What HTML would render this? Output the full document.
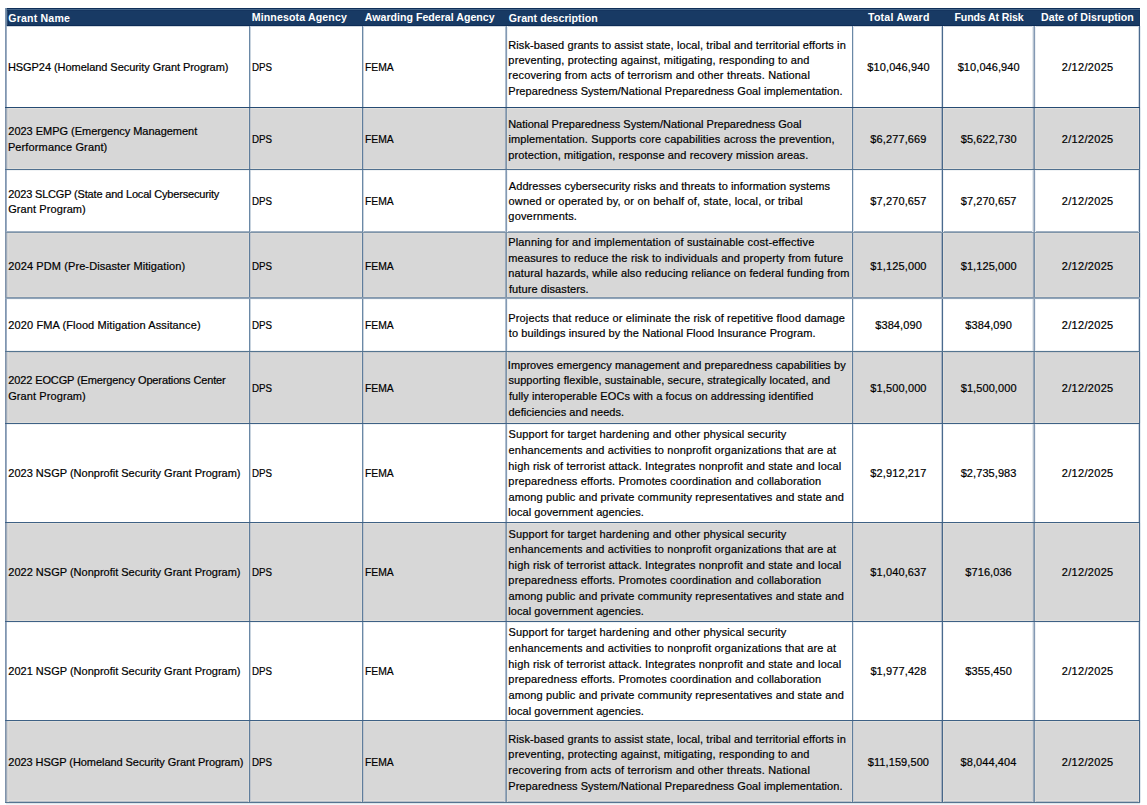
<!DOCTYPE html>
<html><head><meta charset="utf-8"><style>
html,body{margin:0;padding:0;background:#fff;width:1147px;height:805px;overflow:hidden;}
body{position:relative;font-family:"Liberation Sans",sans-serif;color:#000;}
.f{position:absolute;}
.t{position:absolute;font-size:11px;line-height:11px;white-space:nowrap;transform-origin:0 0;-webkit-text-stroke:0.2px currentColor;}
.b{font-weight:bold;font-size:10.6px;-webkit-text-stroke:0;}
.w{color:#fff;}
.hid{visibility:hidden;}
</style></head><body>

<div class="f" style="left:5px;top:8px;width:1135px;height:18px;background:#183a64"></div>
<div class="f" style="left:6px;top:108px;width:1133px;height:61px;background:#d7d7d7"></div>
<div class="f" style="left:6px;top:233px;width:1133px;height:65px;background:#d7d7d7"></div>
<div class="f" style="left:6px;top:352px;width:1133px;height:71px;background:#d7d7d7"></div>
<div class="f" style="left:6px;top:523px;width:1133px;height:98px;background:#d7d7d7"></div>
<div class="f" style="left:6px;top:721px;width:1133px;height:81px;background:#d7d7d7"></div>
<div class="f" style="left:5px;top:26px;width:1135px;height:1px;background:#d0d8e0"></div>
<div class="f" style="left:5px;top:108px;width:1135px;height:1px;background:#e3e1de"></div>
<div class="f" style="left:5px;top:168px;width:1135px;height:1px;background:#e0dfdc"></div>
<div class="f" style="left:5px;top:170px;width:1135px;height:1px;background:#f0f3f5"></div>
<div class="f" style="left:5px;top:231px;width:1135px;height:1px;background:#9fb0c2"></div>
<div class="f" style="left:5px;top:233px;width:1135px;height:1px;background:#dcdbd9"></div>
<div class="f" style="left:5px;top:296px;width:1135px;height:1px;background:#dcdbd9"></div>
<div class="f" style="left:5px;top:299px;width:1135px;height:1px;background:#f5f7f9"></div>
<div class="f" style="left:5px;top:350px;width:1135px;height:1px;background:#f0f3f5"></div>
<div class="f" style="left:5px;top:352px;width:1135px;height:1px;background:#c8cacd"></div>
<div class="f" style="left:5px;top:422px;width:1135px;height:1px;background:#e0dfdc"></div>
<div class="f" style="left:5px;top:424px;width:1135px;height:1px;background:#f0f3f5"></div>
<div class="f" style="left:5px;top:523px;width:1135px;height:1px;background:#e0dfdc"></div>
<div class="f" style="left:5px;top:620px;width:1135px;height:1px;background:#e0dfdc"></div>
<div class="f" style="left:5px;top:622px;width:1135px;height:1px;background:#f0f3f5"></div>
<div class="f" style="left:5px;top:721px;width:1135px;height:1px;background:#e0dfdc"></div>
<div class="f" style="left:5px;top:800px;width:1135px;height:1px;background:#dfdedc"></div>
<div class="f" style="left:5px;top:801px;width:1135px;height:1px;background:#b6bec8"></div>
<div class="f" style="left:6px;top:803px;width:1134px;height:1px;background:#dde4ea"></div>
<div class="f" style="left:6px;top:804px;width:1134px;height:1px;background:#f5f7f9"></div>
<div class="f" style="left:5px;top:26px;width:1px;height:777px;background:#7f95b0"></div>
<div class="f" style="left:6px;top:26px;width:1px;height:777px;background:#9dadc2"></div>
<div class="f" style="left:249px;top:26px;width:1px;height:777px;background:#6a88a6"></div>
<div class="f" style="left:250px;top:26px;width:1px;height:777px;background:#c8d3de"></div>
<div class="f" style="left:362px;top:26px;width:1px;height:777px;background:#6a88a6"></div>
<div class="f" style="left:363px;top:26px;width:1px;height:777px;background:#c8d3de"></div>
<div class="f" style="left:505px;top:26px;width:1px;height:777px;background:#b0bfcf"></div>
<div class="f" style="left:506px;top:26px;width:1px;height:777px;background:#8399b3"></div>
<div class="f" style="left:507px;top:26px;width:1px;height:777px;background:#eef2f5"></div>
<div class="f" style="left:852px;top:26px;width:1px;height:777px;background:#6a88a6"></div>
<div class="f" style="left:853px;top:26px;width:1px;height:777px;background:#dde4ec"></div>
<div class="f" style="left:941px;top:26px;width:1px;height:777px;background:#c9d3de"></div>
<div class="f" style="left:942px;top:26px;width:1px;height:777px;background:#4a6a8e"></div>
<div class="f" style="left:943px;top:26px;width:1px;height:777px;background:#f0f3f6"></div>
<div class="f" style="left:1032px;top:26px;width:1px;height:777px;background:#e5eaef"></div>
<div class="f" style="left:1033px;top:26px;width:1px;height:777px;background:#b5c2d0"></div>
<div class="f" style="left:1034px;top:26px;width:1px;height:777px;background:#8499b3"></div>
<div class="f" style="left:1035px;top:26px;width:1px;height:777px;background:#eef1f4"></div>
<div class="f" style="left:1138px;top:26px;width:1px;height:777px;background:#d0d9e3"></div>
<div class="f" style="left:1139px;top:26px;width:1px;height:777px;background:#4a6a8e"></div>
<div class="f" style="left:1140px;top:26px;width:1px;height:777px;background:#e8edf2"></div>
<div class="f" style="left:5px;top:108px;width:1px;height:61px;background:#8093ab"></div>
<div class="f" style="left:6px;top:108px;width:1px;height:61px;background:#9eabba"></div>
<div class="f" style="left:7px;top:108px;width:1px;height:61px;background:#d0d1d3"></div>
<div class="f" style="left:8px;top:108px;width:1px;height:61px;background:#dcdcdb"></div>
<div class="f" style="left:248px;top:108px;width:1px;height:61px;background:#dddcda"></div>
<div class="f" style="left:249px;top:108px;width:1px;height:61px;background:#5f7d9c"></div>
<div class="f" style="left:250px;top:108px;width:1px;height:61px;background:#bfc5cd"></div>
<div class="f" style="left:361px;top:108px;width:1px;height:61px;background:#dddcda"></div>
<div class="f" style="left:362px;top:108px;width:1px;height:61px;background:#5f7d9c"></div>
<div class="f" style="left:363px;top:108px;width:1px;height:61px;background:#bfc5cd"></div>
<div class="f" style="left:504px;top:108px;width:1px;height:61px;background:#d5d6d8"></div>
<div class="f" style="left:505px;top:108px;width:1px;height:61px;background:#9aa8b8"></div>
<div class="f" style="left:506px;top:108px;width:1px;height:61px;background:#7b93aa"></div>
<div class="f" style="left:507px;top:108px;width:1px;height:61px;background:#dddcd9"></div>
<div class="f" style="left:851px;top:108px;width:1px;height:61px;background:#dddcda"></div>
<div class="f" style="left:852px;top:108px;width:1px;height:61px;background:#5f7d9c"></div>
<div class="f" style="left:853px;top:108px;width:1px;height:61px;background:#c9ced4"></div>
<div class="f" style="left:940px;top:108px;width:1px;height:61px;background:#d5d6d8"></div>
<div class="f" style="left:941px;top:108px;width:1px;height:61px;background:#a3afbf"></div>
<div class="f" style="left:942px;top:108px;width:1px;height:61px;background:#486789"></div>
<div class="f" style="left:943px;top:108px;width:1px;height:61px;background:#dddcda"></div>
<div class="f" style="left:1032px;top:108px;width:1px;height:61px;background:#d0d2d6"></div>
<div class="f" style="left:1033px;top:108px;width:1px;height:61px;background:#97a6b7"></div>
<div class="f" style="left:1034px;top:108px;width:1px;height:61px;background:#7990a8"></div>
<div class="f" style="left:1035px;top:108px;width:1px;height:61px;background:#dddcda"></div>
<div class="f" style="left:1138px;top:108px;width:1px;height:61px;background:#dfdcda"></div>
<div class="f" style="left:1139px;top:108px;width:1px;height:61px;background:#48698c"></div>
<div class="f" style="left:1140px;top:108px;width:1px;height:61px;background:#e0e8ee"></div>
<div class="f" style="left:5px;top:233px;width:1px;height:65px;background:#8093ab"></div>
<div class="f" style="left:6px;top:233px;width:1px;height:65px;background:#9eabba"></div>
<div class="f" style="left:7px;top:233px;width:1px;height:65px;background:#d0d1d3"></div>
<div class="f" style="left:8px;top:233px;width:1px;height:65px;background:#dcdcdb"></div>
<div class="f" style="left:248px;top:233px;width:1px;height:65px;background:#dddcda"></div>
<div class="f" style="left:249px;top:233px;width:1px;height:65px;background:#5f7d9c"></div>
<div class="f" style="left:250px;top:233px;width:1px;height:65px;background:#bfc5cd"></div>
<div class="f" style="left:361px;top:233px;width:1px;height:65px;background:#dddcda"></div>
<div class="f" style="left:362px;top:233px;width:1px;height:65px;background:#5f7d9c"></div>
<div class="f" style="left:363px;top:233px;width:1px;height:65px;background:#bfc5cd"></div>
<div class="f" style="left:504px;top:233px;width:1px;height:65px;background:#d5d6d8"></div>
<div class="f" style="left:505px;top:233px;width:1px;height:65px;background:#9aa8b8"></div>
<div class="f" style="left:506px;top:233px;width:1px;height:65px;background:#7b93aa"></div>
<div class="f" style="left:507px;top:233px;width:1px;height:65px;background:#dddcd9"></div>
<div class="f" style="left:851px;top:233px;width:1px;height:65px;background:#dddcda"></div>
<div class="f" style="left:852px;top:233px;width:1px;height:65px;background:#5f7d9c"></div>
<div class="f" style="left:853px;top:233px;width:1px;height:65px;background:#c9ced4"></div>
<div class="f" style="left:940px;top:233px;width:1px;height:65px;background:#d5d6d8"></div>
<div class="f" style="left:941px;top:233px;width:1px;height:65px;background:#a3afbf"></div>
<div class="f" style="left:942px;top:233px;width:1px;height:65px;background:#486789"></div>
<div class="f" style="left:943px;top:233px;width:1px;height:65px;background:#dddcda"></div>
<div class="f" style="left:1032px;top:233px;width:1px;height:65px;background:#d0d2d6"></div>
<div class="f" style="left:1033px;top:233px;width:1px;height:65px;background:#97a6b7"></div>
<div class="f" style="left:1034px;top:233px;width:1px;height:65px;background:#7990a8"></div>
<div class="f" style="left:1035px;top:233px;width:1px;height:65px;background:#dddcda"></div>
<div class="f" style="left:1138px;top:233px;width:1px;height:65px;background:#dfdcda"></div>
<div class="f" style="left:1139px;top:233px;width:1px;height:65px;background:#48698c"></div>
<div class="f" style="left:1140px;top:233px;width:1px;height:65px;background:#e0e8ee"></div>
<div class="f" style="left:5px;top:352px;width:1px;height:71px;background:#8093ab"></div>
<div class="f" style="left:6px;top:352px;width:1px;height:71px;background:#9eabba"></div>
<div class="f" style="left:7px;top:352px;width:1px;height:71px;background:#d0d1d3"></div>
<div class="f" style="left:8px;top:352px;width:1px;height:71px;background:#dcdcdb"></div>
<div class="f" style="left:248px;top:352px;width:1px;height:71px;background:#dddcda"></div>
<div class="f" style="left:249px;top:352px;width:1px;height:71px;background:#5f7d9c"></div>
<div class="f" style="left:250px;top:352px;width:1px;height:71px;background:#bfc5cd"></div>
<div class="f" style="left:361px;top:352px;width:1px;height:71px;background:#dddcda"></div>
<div class="f" style="left:362px;top:352px;width:1px;height:71px;background:#5f7d9c"></div>
<div class="f" style="left:363px;top:352px;width:1px;height:71px;background:#bfc5cd"></div>
<div class="f" style="left:504px;top:352px;width:1px;height:71px;background:#d5d6d8"></div>
<div class="f" style="left:505px;top:352px;width:1px;height:71px;background:#9aa8b8"></div>
<div class="f" style="left:506px;top:352px;width:1px;height:71px;background:#7b93aa"></div>
<div class="f" style="left:507px;top:352px;width:1px;height:71px;background:#dddcd9"></div>
<div class="f" style="left:851px;top:352px;width:1px;height:71px;background:#dddcda"></div>
<div class="f" style="left:852px;top:352px;width:1px;height:71px;background:#5f7d9c"></div>
<div class="f" style="left:853px;top:352px;width:1px;height:71px;background:#c9ced4"></div>
<div class="f" style="left:940px;top:352px;width:1px;height:71px;background:#d5d6d8"></div>
<div class="f" style="left:941px;top:352px;width:1px;height:71px;background:#a3afbf"></div>
<div class="f" style="left:942px;top:352px;width:1px;height:71px;background:#486789"></div>
<div class="f" style="left:943px;top:352px;width:1px;height:71px;background:#dddcda"></div>
<div class="f" style="left:1032px;top:352px;width:1px;height:71px;background:#d0d2d6"></div>
<div class="f" style="left:1033px;top:352px;width:1px;height:71px;background:#97a6b7"></div>
<div class="f" style="left:1034px;top:352px;width:1px;height:71px;background:#7990a8"></div>
<div class="f" style="left:1035px;top:352px;width:1px;height:71px;background:#dddcda"></div>
<div class="f" style="left:1138px;top:352px;width:1px;height:71px;background:#dfdcda"></div>
<div class="f" style="left:1139px;top:352px;width:1px;height:71px;background:#48698c"></div>
<div class="f" style="left:1140px;top:352px;width:1px;height:71px;background:#e0e8ee"></div>
<div class="f" style="left:5px;top:523px;width:1px;height:98px;background:#8093ab"></div>
<div class="f" style="left:6px;top:523px;width:1px;height:98px;background:#9eabba"></div>
<div class="f" style="left:7px;top:523px;width:1px;height:98px;background:#d0d1d3"></div>
<div class="f" style="left:8px;top:523px;width:1px;height:98px;background:#dcdcdb"></div>
<div class="f" style="left:248px;top:523px;width:1px;height:98px;background:#dddcda"></div>
<div class="f" style="left:249px;top:523px;width:1px;height:98px;background:#5f7d9c"></div>
<div class="f" style="left:250px;top:523px;width:1px;height:98px;background:#bfc5cd"></div>
<div class="f" style="left:361px;top:523px;width:1px;height:98px;background:#dddcda"></div>
<div class="f" style="left:362px;top:523px;width:1px;height:98px;background:#5f7d9c"></div>
<div class="f" style="left:363px;top:523px;width:1px;height:98px;background:#bfc5cd"></div>
<div class="f" style="left:504px;top:523px;width:1px;height:98px;background:#d5d6d8"></div>
<div class="f" style="left:505px;top:523px;width:1px;height:98px;background:#9aa8b8"></div>
<div class="f" style="left:506px;top:523px;width:1px;height:98px;background:#7b93aa"></div>
<div class="f" style="left:507px;top:523px;width:1px;height:98px;background:#dddcd9"></div>
<div class="f" style="left:851px;top:523px;width:1px;height:98px;background:#dddcda"></div>
<div class="f" style="left:852px;top:523px;width:1px;height:98px;background:#5f7d9c"></div>
<div class="f" style="left:853px;top:523px;width:1px;height:98px;background:#c9ced4"></div>
<div class="f" style="left:940px;top:523px;width:1px;height:98px;background:#d5d6d8"></div>
<div class="f" style="left:941px;top:523px;width:1px;height:98px;background:#a3afbf"></div>
<div class="f" style="left:942px;top:523px;width:1px;height:98px;background:#486789"></div>
<div class="f" style="left:943px;top:523px;width:1px;height:98px;background:#dddcda"></div>
<div class="f" style="left:1032px;top:523px;width:1px;height:98px;background:#d0d2d6"></div>
<div class="f" style="left:1033px;top:523px;width:1px;height:98px;background:#97a6b7"></div>
<div class="f" style="left:1034px;top:523px;width:1px;height:98px;background:#7990a8"></div>
<div class="f" style="left:1035px;top:523px;width:1px;height:98px;background:#dddcda"></div>
<div class="f" style="left:1138px;top:523px;width:1px;height:98px;background:#dfdcda"></div>
<div class="f" style="left:1139px;top:523px;width:1px;height:98px;background:#48698c"></div>
<div class="f" style="left:1140px;top:523px;width:1px;height:98px;background:#e0e8ee"></div>
<div class="f" style="left:5px;top:721px;width:1px;height:81px;background:#8093ab"></div>
<div class="f" style="left:6px;top:721px;width:1px;height:81px;background:#9eabba"></div>
<div class="f" style="left:7px;top:721px;width:1px;height:81px;background:#d0d1d3"></div>
<div class="f" style="left:8px;top:721px;width:1px;height:81px;background:#dcdcdb"></div>
<div class="f" style="left:248px;top:721px;width:1px;height:81px;background:#dddcda"></div>
<div class="f" style="left:249px;top:721px;width:1px;height:81px;background:#5f7d9c"></div>
<div class="f" style="left:250px;top:721px;width:1px;height:81px;background:#bfc5cd"></div>
<div class="f" style="left:361px;top:721px;width:1px;height:81px;background:#dddcda"></div>
<div class="f" style="left:362px;top:721px;width:1px;height:81px;background:#5f7d9c"></div>
<div class="f" style="left:363px;top:721px;width:1px;height:81px;background:#bfc5cd"></div>
<div class="f" style="left:504px;top:721px;width:1px;height:81px;background:#d5d6d8"></div>
<div class="f" style="left:505px;top:721px;width:1px;height:81px;background:#9aa8b8"></div>
<div class="f" style="left:506px;top:721px;width:1px;height:81px;background:#7b93aa"></div>
<div class="f" style="left:507px;top:721px;width:1px;height:81px;background:#dddcd9"></div>
<div class="f" style="left:851px;top:721px;width:1px;height:81px;background:#dddcda"></div>
<div class="f" style="left:852px;top:721px;width:1px;height:81px;background:#5f7d9c"></div>
<div class="f" style="left:853px;top:721px;width:1px;height:81px;background:#c9ced4"></div>
<div class="f" style="left:940px;top:721px;width:1px;height:81px;background:#d5d6d8"></div>
<div class="f" style="left:941px;top:721px;width:1px;height:81px;background:#a3afbf"></div>
<div class="f" style="left:942px;top:721px;width:1px;height:81px;background:#486789"></div>
<div class="f" style="left:943px;top:721px;width:1px;height:81px;background:#dddcda"></div>
<div class="f" style="left:1032px;top:721px;width:1px;height:81px;background:#d0d2d6"></div>
<div class="f" style="left:1033px;top:721px;width:1px;height:81px;background:#97a6b7"></div>
<div class="f" style="left:1034px;top:721px;width:1px;height:81px;background:#7990a8"></div>
<div class="f" style="left:1035px;top:721px;width:1px;height:81px;background:#dddcda"></div>
<div class="f" style="left:1138px;top:721px;width:1px;height:81px;background:#dfdcda"></div>
<div class="f" style="left:1139px;top:721px;width:1px;height:81px;background:#48698c"></div>
<div class="f" style="left:1140px;top:721px;width:1px;height:81px;background:#e0e8ee"></div>
<div class="f" style="left:5px;top:8px;width:1px;height:18px;background:#7f94ae"></div>
<div class="f" style="left:6px;top:8px;width:1px;height:18px;background:#6a86a3"></div>
<div class="f" style="left:7px;top:8px;width:1px;height:18px;background:#2a4a70"></div>
<div class="f" style="left:8px;top:8px;width:1px;height:18px;background:#12305a"></div>
<div class="f" style="left:1139px;top:8px;width:1px;height:18px;background:#15365f"></div>
<div class="f" style="left:7px;top:8px;width:1133px;height:1px;background:#0f2f58"></div>
<div class="f" style="left:7px;top:9px;width:1133px;height:1px;background:#44658a"></div>
<div class="f" style="left:7px;top:10px;width:1133px;height:1px;background:#15355f"></div>
<div class="f" style="left:7px;top:25px;width:1133px;height:1px;background:#0c2b55"></div>
<div class="f" style="left:5px;top:107px;width:1135px;height:1px;background:#264b73"></div>
<div class="f" style="left:5px;top:169px;width:1135px;height:1px;background:#50708f"></div>
<div class="f" style="left:5px;top:232px;width:1135px;height:1px;background:#7f94a8"></div>
<div class="f" style="left:5px;top:297px;width:1135px;height:1px;background:#8498ad"></div>
<div class="f" style="left:5px;top:298px;width:1135px;height:1px;background:#8fa3b8"></div>
<div class="f" style="left:5px;top:351px;width:1135px;height:1px;background:#557590"></div>
<div class="f" style="left:5px;top:423px;width:1135px;height:1px;background:#3e6185"></div>
<div class="f" style="left:5px;top:522px;width:1135px;height:1px;background:#3e6185"></div>
<div class="f" style="left:5px;top:621px;width:1135px;height:1px;background:#3e6185"></div>
<div class="f" style="left:5px;top:720px;width:1135px;height:1px;background:#3e6185"></div>
<div class="f" style="left:5px;top:802px;width:1135px;height:1px;background:#557590"></div>
<div class="t b w" style="left:8.37px;top:12.70px;letter-spacing:0.164px;">Grant Name</div>
<div class="t b w" style="left:251.69px;top:11.60px;letter-spacing:0.128px;">Minnesota Agency</div>
<div class="t b w" style="left:364.87px;top:11.60px;letter-spacing:0.009px;">Awarding Federal Agency</div>
<div class="t b w" style="left:508.72px;top:12.80px;letter-spacing:0.038px;">Grant description</div>
<div class="t b w" style="left:868.04px;top:11.60px;letter-spacing:0.214px;">Total Award</div>
<div class="t b w" style="left:954.52px;top:11.60px;letter-spacing:-0.133px;">Funds At Risk</div>
<div class="t b w" style="left:1041.09px;top:11.60px;letter-spacing:0.055px;">Date of Disruption</div>
<div class="t" style="left:7.89px;top:61.80px;letter-spacing:-0.050px;">HSGP24 (Homeland Security Grant Program)</div>
<div class="t" style="left:251.61px;top:61.80px;transform:scaleX(0.8884);">DPS</div>
<div class="t" style="left:364.63px;top:61.80px;transform:scaleX(0.9393);">FEMA</div>
<div class="t" style="left:508.21px;top:39.70px;letter-spacing:0.103px;">Risk-based grants to assist state, local, tribal and territorial efforts in</div>
<div class="t" style="left:508.37px;top:55.10px;letter-spacing:0.157px;">preventing, protecting against, mitigating, responding to and</div>
<div class="t" style="left:508.33px;top:69.50px;letter-spacing:0.175px;">recovering from acts of terrorism and other threats. National</div>
<div class="t" style="left:508.24px;top:85.90px;letter-spacing:0.067px;">Preparedness System/National Preparedness Goal implementation.</div>
<div class="t" style="left:867.33px;top:61.80px;letter-spacing:0.102px;">$10,046,940</div>
<div class="t" style="left:957.68px;top:61.80px;letter-spacing:0.077px;">$10,046,940</div>
<div class="t" style="left:1061.83px;top:61.80px;letter-spacing:0.309px;">2/12/2025</div>
<div class="t" style="left:8.34px;top:125.55px;letter-spacing:-0.021px;">2023 EMPG (Emergency Management</div>
<div class="t" style="left:7.89px;top:142.45px;letter-spacing:0.127px;">Performance Grant)</div>
<div class="t" style="left:251.61px;top:133.50px;transform:scaleX(0.8884);">DPS</div>
<div class="t" style="left:364.63px;top:133.50px;transform:scaleX(0.9393);">FEMA</div>
<div class="t" style="left:508.14px;top:119.10px;letter-spacing:0.009px;">National Preparedness System/National Preparedness Goal</div>
<div class="t" style="left:508.38px;top:133.50px;letter-spacing:0.130px;">implementation. Supports core capabilities across the prevention,</div>
<div class="t" style="left:508.37px;top:149.90px;letter-spacing:0.108px;">protection, mitigation, response and recovery mission areas.</div>
<div class="t" style="left:870.35px;top:133.50px;letter-spacing:0.117px;">$6,277,669</div>
<div class="t" style="left:960.71px;top:133.50px;letter-spacing:0.083px;">$5,622,730</div>
<div class="t" style="left:1061.83px;top:133.50px;letter-spacing:0.309px;">2/12/2025</div>
<div class="t" style="left:8.34px;top:188.85px;letter-spacing:-0.176px;">2023 SLCGP (State and Local Cybersecurity</div>
<div class="t" style="left:8.21px;top:203.75px;letter-spacing:0.090px;">Grant Program)</div>
<div class="t" style="left:251.61px;top:195.80px;transform:scaleX(0.8884);">DPS</div>
<div class="t" style="left:364.63px;top:195.80px;transform:scaleX(0.9393);">FEMA</div>
<div class="t" style="left:508.81px;top:181.40px;letter-spacing:0.073px;">Addresses cybersecurity risks and threats to information systems</div>
<div class="t" style="left:508.47px;top:195.80px;letter-spacing:0.176px;">owned or operated by, or on behalf of, state, local, or tribal</div>
<div class="t" style="left:508.35px;top:211.20px;letter-spacing:0.176px;">governments.</div>
<div class="t" style="left:870.27px;top:195.80px;letter-spacing:0.122px;">$7,270,657</div>
<div class="t" style="left:960.69px;top:195.80px;letter-spacing:0.079px;">$7,270,657</div>
<div class="t" style="left:1061.83px;top:195.80px;letter-spacing:0.309px;">2/12/2025</div>
<div class="t" style="left:8.34px;top:261.10px;letter-spacing:0.095px;">2024 PDM (Pre-Disaster Mitigation)</div>
<div class="t" style="left:251.61px;top:261.10px;transform:scaleX(0.8884);">DPS</div>
<div class="t" style="left:364.63px;top:261.10px;transform:scaleX(0.9393);">FEMA</div>
<div class="t" style="left:508.24px;top:237.00px;letter-spacing:0.161px;">Planning for and implementation of sustainable cost-effective</div>
<div class="t" style="left:508.29px;top:253.40px;letter-spacing:0.173px;">measures to reduce the risk to individuals and property from future</div>
<div class="t" style="left:508.29px;top:267.80px;letter-spacing:0.117px;">natural hazards, while also reducing reliance on federal funding from</div>
<div class="t" style="left:508.91px;top:284.20px;letter-spacing:0.094px;">future disasters.</div>
<div class="t" style="left:870.35px;top:261.10px;letter-spacing:0.121px;">$1,125,000</div>
<div class="t" style="left:960.71px;top:261.10px;letter-spacing:0.083px;">$1,125,000</div>
<div class="t" style="left:1061.83px;top:261.10px;letter-spacing:0.309px;">2/12/2025</div>
<div class="t" style="left:8.34px;top:319.80px;letter-spacing:0.109px;">2020 FMA (Flood Mitigation Assitance)</div>
<div class="t" style="left:251.61px;top:319.80px;transform:scaleX(0.8884);">DPS</div>
<div class="t" style="left:364.63px;top:319.80px;transform:scaleX(0.9393);">FEMA</div>
<div class="t" style="left:508.24px;top:313.10px;letter-spacing:0.159px;">Projects that reduce or eliminate the risk of repetitive flood damage</div>
<div class="t" style="left:508.87px;top:327.50px;letter-spacing:0.086px;">to buildings insured by the National Flood Insurance Program.</div>
<div class="t" style="left:875.22px;top:319.80px;letter-spacing:0.096px;">$384,090</div>
<div class="t" style="left:965.35px;top:319.80px;letter-spacing:0.086px;">$384,090</div>
<div class="t" style="left:1061.83px;top:319.80px;letter-spacing:0.309px;">2/12/2025</div>
<div class="t" style="left:8.34px;top:374.55px;letter-spacing:-0.129px;">2022 EOCGP (Emergency Operations Center</div>
<div class="t" style="left:8.21px;top:391.45px;letter-spacing:0.090px;">Grant Program)</div>
<div class="t" style="left:251.61px;top:382.50px;transform:scaleX(0.8884);">DPS</div>
<div class="t" style="left:364.63px;top:382.50px;transform:scaleX(0.9393);">FEMA</div>
<div class="t" style="left:507.87px;top:360.40px;letter-spacing:0.066px;">Improves emergency management and preparedness capabilities by</div>
<div class="t" style="left:508.41px;top:374.80px;letter-spacing:0.076px;">supporting flexible, sustainable, secure, strategically located, and</div>
<div class="t" style="left:508.91px;top:391.20px;letter-spacing:0.078px;">fully interoperable EOCs with a focus on addressing identified</div>
<div class="t" style="left:508.46px;top:406.60px;letter-spacing:0.028px;">deficiencies and needs.</div>
<div class="t" style="left:870.35px;top:382.50px;letter-spacing:0.121px;">$1,500,000</div>
<div class="t" style="left:960.71px;top:382.50px;letter-spacing:0.083px;">$1,500,000</div>
<div class="t" style="left:1061.83px;top:382.50px;letter-spacing:0.309px;">2/12/2025</div>
<div class="t" style="left:8.34px;top:468.00px;letter-spacing:0.002px;">2023 NSGP (Nonprofit Security Grant Program)</div>
<div class="t" style="left:251.61px;top:468.00px;transform:scaleX(0.8884);">DPS</div>
<div class="t" style="left:364.63px;top:468.00px;transform:scaleX(0.9393);">FEMA</div>
<div class="t" style="left:508.44px;top:428.50px;letter-spacing:0.126px;">Support for target hardening and other physical security</div>
<div class="t" style="left:508.62px;top:444.90px;letter-spacing:0.146px;">enhancements and activities to nonprofit organizations that are at</div>
<div class="t" style="left:508.29px;top:461.30px;letter-spacing:0.154px;">high risk of terrorist attack. Integrates nonprofit and state and local</div>
<div class="t" style="left:508.37px;top:475.70px;letter-spacing:0.152px;">preparedness efforts. Promotes coordination and collaboration</div>
<div class="t" style="left:508.48px;top:492.10px;letter-spacing:0.132px;">among public and private community representatives and state and</div>
<div class="t" style="left:508.20px;top:506.50px;letter-spacing:0.066px;">local government agencies.</div>
<div class="t" style="left:870.27px;top:468.00px;letter-spacing:0.122px;">$2,912,217</div>
<div class="t" style="left:960.66px;top:468.00px;letter-spacing:0.081px;">$2,735,983</div>
<div class="t" style="left:1061.83px;top:468.00px;letter-spacing:0.309px;">2/12/2025</div>
<div class="t" style="left:8.34px;top:567.00px;letter-spacing:0.002px;">2022 NSGP (Nonprofit Security Grant Program)</div>
<div class="t" style="left:251.61px;top:567.00px;transform:scaleX(0.8884);">DPS</div>
<div class="t" style="left:364.63px;top:567.00px;transform:scaleX(0.9393);">FEMA</div>
<div class="t" style="left:508.44px;top:528.50px;letter-spacing:0.126px;">Support for target hardening and other physical security</div>
<div class="t" style="left:508.62px;top:543.90px;letter-spacing:0.146px;">enhancements and activities to nonprofit organizations that are at</div>
<div class="t" style="left:508.29px;top:560.30px;letter-spacing:0.154px;">high risk of terrorist attack. Integrates nonprofit and state and local</div>
<div class="t" style="left:508.37px;top:574.70px;letter-spacing:0.152px;">preparedness efforts. Promotes coordination and collaboration</div>
<div class="t" style="left:508.48px;top:591.10px;letter-spacing:0.132px;">among public and private community representatives and state and</div>
<div class="t" style="left:508.20px;top:605.50px;letter-spacing:0.066px;">local government agencies.</div>
<div class="t" style="left:870.27px;top:567.00px;letter-spacing:0.122px;">$1,040,637</div>
<div class="t" style="left:965.36px;top:567.00px;letter-spacing:0.068px;">$716,036</div>
<div class="t" style="left:1061.83px;top:567.00px;letter-spacing:0.309px;">2/12/2025</div>
<div class="t" style="left:8.34px;top:666.00px;letter-spacing:0.002px;">2021 NSGP (Nonprofit Security Grant Program)</div>
<div class="t" style="left:251.61px;top:666.00px;transform:scaleX(0.8884);">DPS</div>
<div class="t" style="left:364.63px;top:666.00px;transform:scaleX(0.9393);">FEMA</div>
<div class="t" style="left:508.44px;top:626.50px;letter-spacing:0.126px;">Support for target hardening and other physical security</div>
<div class="t" style="left:508.62px;top:642.90px;letter-spacing:0.146px;">enhancements and activities to nonprofit organizations that are at</div>
<div class="t" style="left:508.29px;top:659.30px;letter-spacing:0.154px;">high risk of terrorist attack. Integrates nonprofit and state and local</div>
<div class="t" style="left:508.37px;top:673.70px;letter-spacing:0.152px;">preparedness efforts. Promotes coordination and collaboration</div>
<div class="t" style="left:508.48px;top:690.10px;letter-spacing:0.132px;">among public and private community representatives and state and</div>
<div class="t" style="left:508.20px;top:705.50px;letter-spacing:0.066px;">local government agencies.</div>
<div class="t" style="left:870.38px;top:666.00px;letter-spacing:0.116px;">$1,977,428</div>
<div class="t" style="left:965.35px;top:666.00px;letter-spacing:0.086px;">$355,450</div>
<div class="t" style="left:1061.83px;top:666.00px;letter-spacing:0.309px;">2/12/2025</div>
<div class="t" style="left:8.34px;top:757.45px;letter-spacing:-0.060px;">2023 HSGP (Homeland Security Grant Program)</div>
<div class="t" style="left:251.61px;top:757.45px;transform:scaleX(0.8884);">DPS</div>
<div class="t" style="left:364.63px;top:757.45px;transform:scaleX(0.9393);">FEMA</div>
<div class="t" style="left:508.21px;top:734.35px;letter-spacing:0.103px;">Risk-based grants to assist state, local, tribal and territorial efforts in</div>
<div class="t" style="left:508.37px;top:748.75px;letter-spacing:0.157px;">preventing, protecting against, mitigating, responding to and</div>
<div class="t" style="left:508.33px;top:765.15px;letter-spacing:0.175px;">recovering from acts of terrorism and other threats. National</div>
<div class="t" style="left:508.24px;top:780.55px;letter-spacing:0.067px;">Preparedness System/National Preparedness Goal implementation.</div>
<div class="t" style="left:867.72px;top:757.45px;letter-spacing:0.090px;">$11,159,500</div>
<div class="t" style="left:960.52px;top:757.45px;letter-spacing:0.084px;">$8,044,404</div>
<div class="t" style="left:1061.83px;top:757.45px;letter-spacing:0.309px;">2/12/2025</div>
</body></html>
